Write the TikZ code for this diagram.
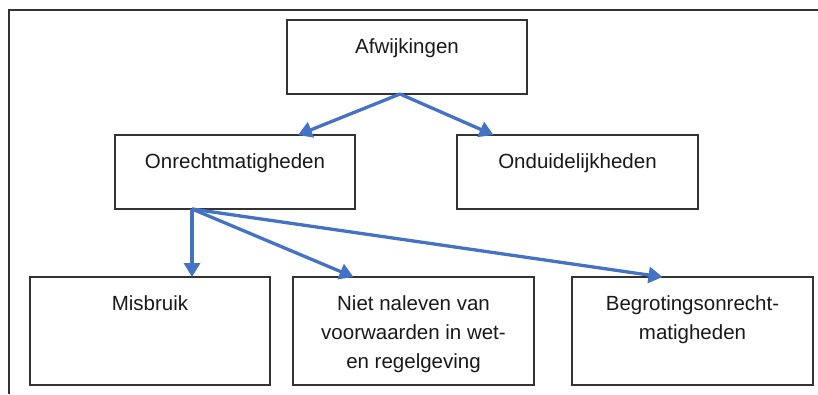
\documentclass[tikz,border=0pt]{standalone}
\usepackage{fontspec}
\setmainfont{Liberation Sans}
\usetikzlibrary{positioning,arrows.meta}
\definecolor{linkblue}{RGB}{68,114,196}
\newcommand{\boxtext}[3]{\parbox[c][#2pt][t]{#1pt}{\centering\rule{0pt}{33pt}#3}}
\begin{document}
\begin{tikzpicture}[x=1pt, y=1pt,
    box/.style={
        rectangle,
        draw=black!80, line width=1.2pt,
        inner sep=0pt, outer sep=0pt,
        anchor=north west,
        text=black!90,
        font=\fontsize{20.5}{29}\selectfont},
    arrow/.style={
        draw=linkblue,
        line width=3.3pt,
        -{Triangle[length=14pt,width=16pt]}}
    ]

    \useasboundingbox (0,0) rectangle (818,-394);
    \draw [black!80, line width=1.2pt] (818,-10) -- (9,-10) -- (9,-394);

    \node (afw) [box] at (287,-20) {\boxtext{240}{74}{Afwijkingen}};
    \node (onrecht) [box] at (115,-135) {\boxtext{240}{74}{Onrechtmatigheden}};
    \node (ondui) [box, right=102pt of onrecht.north east, anchor=north west] {\boxtext{241}{74}{Onduidelijkheden}};
    \node (misbruik) [box] at (30,-277) {\boxtext{240}{108}{Misbruik}};
    \node (naleven) [box, right=23pt of misbruik.north east, anchor=north west] {\boxtext{241}{108}{Niet naleven van\\voorwaarden in wet-\\en regelgeving}};
    \node (begroting) [box, right=38pt of naleven.north east, anchor=north west] {\boxtext{241}{108}{Begrotingsonrecht-\\matigheden}};

    \coordinate (afwfork) at ([xshift=-7pt]afw.south);
    \coordinate (onrechtfork) at ([xshift=-43pt]onrecht.south);

    \draw [arrow] (afwfork) -- ([xshift=63pt]onrecht.north);
    \draw [arrow] (afwfork) -- ([xshift=-84pt]ondui.north);
    \draw [arrow] (onrechtfork) -- ([xshift=42pt]misbruik.north);
    \draw [arrow] (onrechtfork) -- ([xshift=-60pt]naleven.north);
    \draw [arrow] (onrechtfork) -- ([xshift=-30pt]begroting.north);

\end{tikzpicture}
\end{document}
